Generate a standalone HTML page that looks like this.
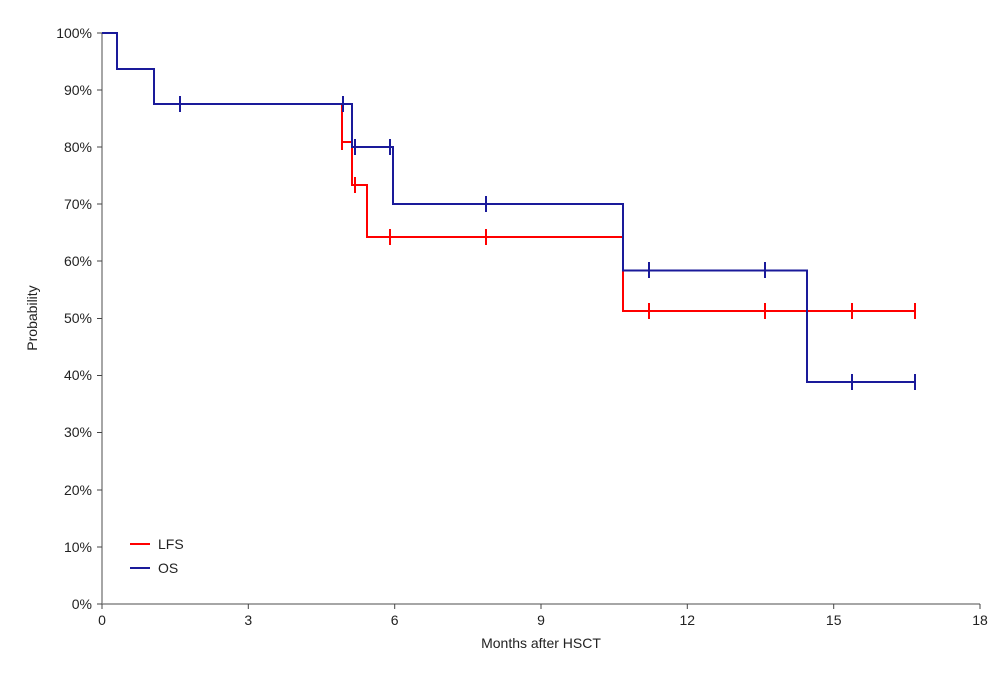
<!DOCTYPE html>
<html><head><style>body{margin:0;background:#fff}svg{display:block}text{font-family:"Liberation Sans",sans-serif;font-size:14px;fill:#222}</style></head>
<body>
<svg width="1008" height="676" viewBox="0 0 1008 676">
<g stroke="#888" stroke-width="1.5" fill="none">
<line x1="102" y1="33" x2="102" y2="604"/>
<line x1="102" y1="604" x2="980" y2="604"/>
</g>
<g stroke="#444" stroke-width="1">
<line x1="97" y1="33" x2="102" y2="33"/><line x1="97" y1="90" x2="102" y2="90"/><line x1="97" y1="147" x2="102" y2="147"/><line x1="97" y1="204" x2="102" y2="204"/><line x1="97" y1="261" x2="102" y2="261"/><line x1="97" y1="318.5" x2="102" y2="318.5"/><line x1="97" y1="375.5" x2="102" y2="375.5"/><line x1="97" y1="432.5" x2="102" y2="432.5"/><line x1="97" y1="490" x2="102" y2="490"/><line x1="97" y1="547" x2="102" y2="547"/><line x1="97" y1="604" x2="102" y2="604"/>
<line x1="102" y1="604" x2="102" y2="609"/><line x1="248.3" y1="604" x2="248.3" y2="609"/><line x1="394.7" y1="604" x2="394.7" y2="609"/><line x1="541" y1="604" x2="541" y2="609"/><line x1="687.3" y1="604" x2="687.3" y2="609"/><line x1="833.7" y1="604" x2="833.7" y2="609"/><line x1="980" y1="604" x2="980" y2="609"/>
</g>
<g text-anchor="end">
<text x="92" y="38">100%</text><text x="92" y="95">90%</text><text x="92" y="152">80%</text><text x="92" y="209">70%</text><text x="92" y="266">60%</text><text x="92" y="323">50%</text><text x="92" y="380">40%</text><text x="92" y="437">30%</text><text x="92" y="495">20%</text><text x="92" y="552">10%</text><text x="92" y="609">0%</text>
</g>
<g text-anchor="middle">
<text x="102" y="625">0</text><text x="248.3" y="625">3</text><text x="394.7" y="625">6</text><text x="541" y="625">9</text><text x="687.3" y="625">12</text><text x="833.7" y="625">15</text><text x="980" y="625">18</text>
<text x="541" y="648">Months after HSCT</text>
<text transform="translate(37,318) rotate(-90)">Probability</text>
</g>
<g fill="none" stroke-width="2">
<path stroke="#f00" d="M102,33H117V69H154V104H342V142H352V185H367V237H623V311H915"/>
<path stroke="#f00" d="M342,134V150M355,177V193M390,229V245M486,229V245M649,303V319M765,303V319M852,303V319M915,303V319"/>
<path stroke="#1a1a9a" d="M102,33H117V69H154V104H352V147H393V204H623V270.5H807V382H915"/>
<path stroke="#1a1a9a" d="M180,96V112M343,96V112M355,139V155M390,139V155M486,196V212M649,262V278M765,262V278M852,374V390M915,374V390"/>
<line stroke="#f00" x1="130" y1="544" x2="150" y2="544"/>
<line stroke="#1a1a9a" x1="130" y1="568" x2="150" y2="568"/>
</g>
<text x="158" y="549">LFS</text>
<text x="158" y="573">OS</text>
</svg>
</body></html>
